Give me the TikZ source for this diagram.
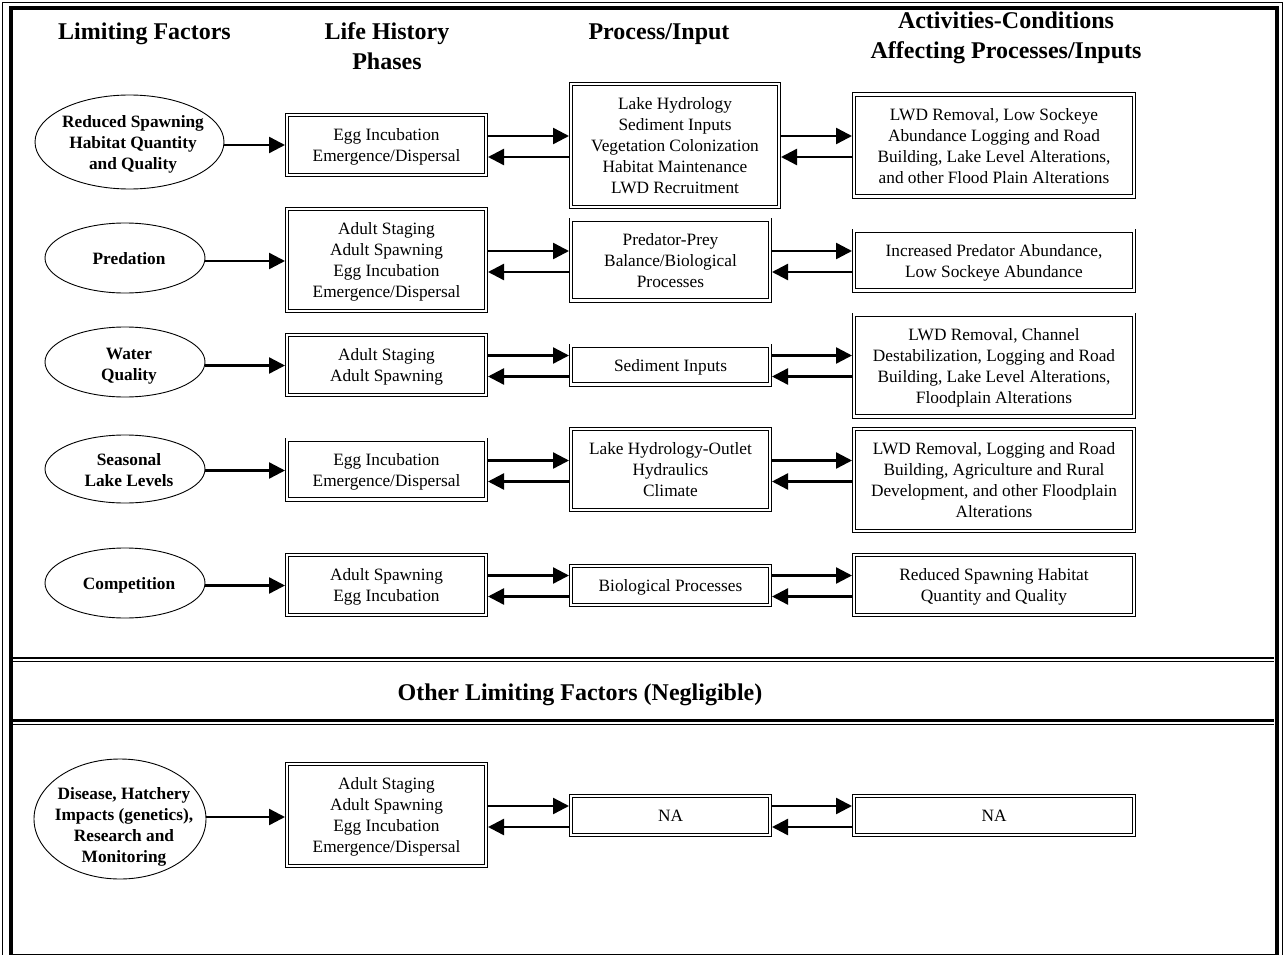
\documentclass[tikz,border=0pt]{standalone}
\usepackage{fontspec}
\setmainfont{Liberation Serif}
\usetikzlibrary{arrows.meta,shapes.geometric,calc}
\newcommand\bxfont{\fontsize{17.3}{21}\selectfont}
\newcommand\ovfont{\fontsize{17.3}{21}\selectfont\bfseries}
\newcommand\hdfont{\fontsize{24}{30}\selectfont\bfseries}
\begin{document}
\begin{tikzpicture}[x=1pt,y=-1pt,
  every node/.style={inner sep=0pt},
  boxed/.style={draw, double, line width=0.9pt, double distance=2.4pt,
    outer sep=2.1pt, align=center, font=\bxfont, text depth=0pt,
    minimum width=198.8pt},
  wide/.style={boxed, minimum width=279.8pt},
  hA/.style={minimum height=38.8pt},
  hB/.style={minimum height=59.8pt},
  hC/.style={minimum height=80.8pt},
  hD/.style={minimum height=101.8pt},
  hE/.style={minimum height=122.8pt},
  oval/.style={draw, ellipse, line width=0.9pt, outer sep=0.45pt},
  ovtext/.style={align=center, font=\ovfont},
  head/.style={align=center, font=\hdfont},
  arr/.style={line width=2.4pt, -{Triangle[length=16pt,width=16pt]}},
]
\useasboundingbox (0,0) rectangle (1285,955);

% frame and separators
\draw[line width=1.2pt] (2.5,2.5) rectangle (1282.5,962);
\draw[line width=4pt] (11.3,8) rectangle (1276.5,956);
\draw[line width=2.5pt] (13,658) -- (1274,658);
\draw[line width=1.2pt] (13,661.8) -- (1274,661.8);
\draw[line width=2.5pt] (13,720.3) -- (1274,720.3);
\draw[line width=1.2pt] (13,724.3) -- (1274,724.3);

% column headings
\node[head] (hlf) at (144.5,34) {Limiting Factors};
\node[head] (hlh) at (387,46) {Life History\\Phases};
\node[head] (hpi) at (659,34) {Process/Input};
\node[head] (hac) at (1006,38) {Activities-Conditions\\Affecting Processes/Inputs};
\node[head] (hol) at (580,694.5) {Other Limiting Factors (Negligible)};

% row 1
\coordinate (r1) at (0,145); \coordinate (u1) at (0,136); \coordinate (d1) at (0,157);
\node[oval, minimum width=189pt, minimum height=94pt] (e1) at (129.5,142) {};
\node[ovtext] (t1) at (133,144) {Reduced Spawning\\Habitat Quantity\\and Quality};
\node[boxed,hB] (a1) at (386.5,145) {Egg Incubation\\Emergence/Dispersal};
\node[boxed,hE,minimum width=207.8pt] (b1) at (675,145.5) {Lake Hydrology\\Sediment Inputs\\Vegetation Colonization\\Habitat Maintenance\\LWD Recruitment};
\node[wide,hD] (c1) at (994,145.5) {LWD Removal, Low Sockeye\\Abundance Logging and Road\\Building, Lake Level Alterations,\\and other Flood Plain Alterations};

% row 2
\coordinate (r2) at (0,261); \coordinate (u2) at (0,251); \coordinate (d2) at (0,272);
\node[oval, minimum width=160pt, minimum height=70pt] (e2) at (125,258) {};
\node[ovtext] (t2) at (129,259) {Predation};
\node[boxed,hD] (a2) at (386.5,260) {Adult Staging\\Adult Spawning\\Egg Incubation\\Emergence/Dispersal};
\node[boxed,hC] (b2) at (670.5,260) {Predator-Prey\\Balance/Biological\\Processes};
\node[wide,hB] (c2) at (994,260.5) {Increased Predator Abundance,\\Low Sockeye Abundance};

% row 3
\coordinate (r3) at (0,365.5); \coordinate (u3) at (0,355.5); \coordinate (d3) at (0,376.5);
\node[oval, minimum width=160pt, minimum height=70pt] (e3) at (125,362) {};
\node[ovtext] (t3) at (129,366) {Water\\Quality};
\node[boxed,hB] (a3) at (386.5,365) {Adult Staging\\Adult Spawning};
\node[boxed,hA] (b3) at (670.5,365) {Sediment Inputs};
\node[wide,hD] (c3) at (994,365.5) {LWD Removal, Channel\\Destabilization, Logging and Road\\Building, Lake Level Alterations,\\Floodplain Alterations};

% row 4
\coordinate (r4) at (0,470.5); \coordinate (u4) at (0,460.5); \coordinate (d4) at (0,481.5);
\node[oval, minimum width=160pt, minimum height=68pt] (e4) at (125,469) {};
\node[ovtext] (t4) at (129,470) {Seasonal\\Lake Levels};
\node[boxed,hB] (a4) at (386.5,469.5) {Egg Incubation\\Emergence/Dispersal};
\node[boxed,hC] (b4) at (670.5,469.5) {Lake Hydrology-Outlet\\Hydraulics\\Climate};
\node[wide,hD] (c4) at (994,480) {LWD Removal, Logging and Road\\Building, Agriculture and Rural\\Development, and other Floodplain\\Alterations};

% row 5
\coordinate (r5) at (0,585.5); \coordinate (u5) at (0,575.5); \coordinate (d5) at (0,596.5);
\node[oval, minimum width=160pt, minimum height=70pt] (e5) at (125,583) {};
\node[ovtext] (t5) at (129,585) {Competition};
\node[boxed,hB] (a5) at (386.5,585) {Adult Spawning\\Egg Incubation};
\node[boxed,hA] (b5) at (670.5,585.5) {Biological Processes};
\node[wide,hB] (c5) at (994,585) {Reduced Spawning Habitat\\Quantity and Quality};

% row 6 (negligible factors)
\coordinate (r6) at (0,817); \coordinate (u6) at (0,806); \coordinate (d6) at (0,827);
\node[oval, minimum width=172pt, minimum height=120pt] (e6) at (120,819) {};
\node[ovtext] (t6) at (124,827) {Disease, Hatchery\\Impacts (genetics),\\Research and\\Monitoring};
\node[boxed,hD] (a6) at (386.5,815) {Adult Staging\\Adult Spawning\\Egg Incubation\\Emergence/Dispersal};
\node[boxed,hA] (b6) at (670.5,815.5) {NA};
\node[wide,hA] (c6) at (994,815.5) {NA};

% connectors
\foreach \i in {1,...,6}{
  \draw[arr] (e\i.east |- r\i) -- (a\i.west |- r\i);
  \draw[arr] (a\i.east |- u\i) -- (b\i.west |- u\i);
  \draw[arr] (b\i.west |- d\i) -- (a\i.east |- d\i);
  \draw[arr] (b\i.east |- u\i) -- (c\i.west |- u\i);
  \draw[arr] (c\i.west |- d\i) -- (b\i.east |- d\i);
}
\end{tikzpicture}
\end{document}
